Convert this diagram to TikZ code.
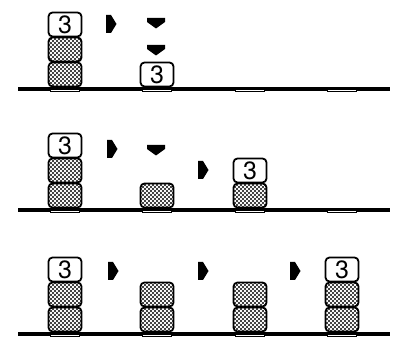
\documentclass[tikz,border=0pt]{standalone}
\usepackage{fontspec}
\setsansfont{TeX Gyre Heros}
\usetikzlibrary{patterns}

% staggered stipple used for the plain blocks
\pgfdeclarepatternformonly{stipple}{\pgfpoint{-0.1pt}{-0.1pt}}{\pgfpoint{2.1pt}{2.1pt}}{\pgfpoint{2pt}{2pt}}%
  {\pgfpathcircle{\pgfpoint{0.5pt}{0.5pt}}{0.55pt}\pgfpathcircle{\pgfpoint{1.5pt}{1.5pt}}{0.55pt}\pgfusepath{fill}}

\begin{document}
\begin{tikzpicture}[
    x=0.5pt, y=-0.5pt,
    lab/.style={draw, line width=0.9pt, rounded corners=2pt, fill=white,
                minimum width=16.5pt, minimum height=12pt, inner sep=0pt,
                font=\sffamily\fontsize{12.5}{12.5}\selectfont},
    blk/.style={draw, line width=0.9pt, rounded corners=2pt, pattern=stipple,
                minimum width=16.5pt, minimum height=12pt, inner sep=0pt},
    ground/.style={line width=2pt},
    rarr/.pic={\fill (-5,-9) -- (0,-9) -- (5.5,0) -- (0,9) -- (-5,9) -- cycle;},
    darr/.pic={\fill (-9,-5) -- (9,-5) -- (9,-1) -- (0,5.5) -- (-9,-1) -- cycle;}
]
\useasboundingbox (0,0) rectangle (397,342);

% ============================================================
% ground lines with four slots each
% ============================================================
\foreach \g in {89,210,334} {
    \draw[ground] (18,\g) -- (390,\g);
    \foreach \x in {65,157,250,342} {
        \fill ({\x-15},{\g-2}) rectangle ({\x+15},{\g+3.5});
        \draw[white, line width=0.6pt] ({\x-14},{\g+1.6}) -- ({\x+14},{\g+1.6});
    }
}

% ============================================================
% ROW 1  (ground y=89)
% ============================================================
\node[blk] (p0) at (65,74.5) {};
\node[blk] (p1) at (65,49.5) {};
\node[lab] (p2) at (65,24.5) {3};

\pic at (111,24) {rarr};
\pic at (156,23) {darr};
\pic at (156,50) {darr};

\node[lab] (pc) at (157,74.5) {3};

% ============================================================
% ROW 2  (ground y=210)
% ============================================================
\node[blk] (q0) at (65,195.5) {};
\node[blk] (q1) at (65,170.5) {};
\node[lab] (q2) at (65,145.5) {3};

\pic at (112,149) {rarr};
\pic at (156,150) {darr};

\node[blk] (qd) at (157,195.5) {};

\pic at (203,170) {rarr};

\node[blk] (qe) at (250,195.5) {};
\node[lab] (qf) at (250,170.5) {3};

% ============================================================
% ROW 3  (ground y=334)
% ============================================================
\foreach \c/\x in {1/65,2/157,3/250,4/342} {
    \node[blk] (r\c a) at (\x,319.5) {};
    \node[blk] (r\c b) at (\x,294.5) {};
}
\node[lab] (r1t) at (65,269.5) {3};
\node[lab] (r4t) at (342,269.5) {3};

\foreach \x in {113,203,295} { \pic at (\x,271) {rarr}; }

\end{tikzpicture}
\end{document}
